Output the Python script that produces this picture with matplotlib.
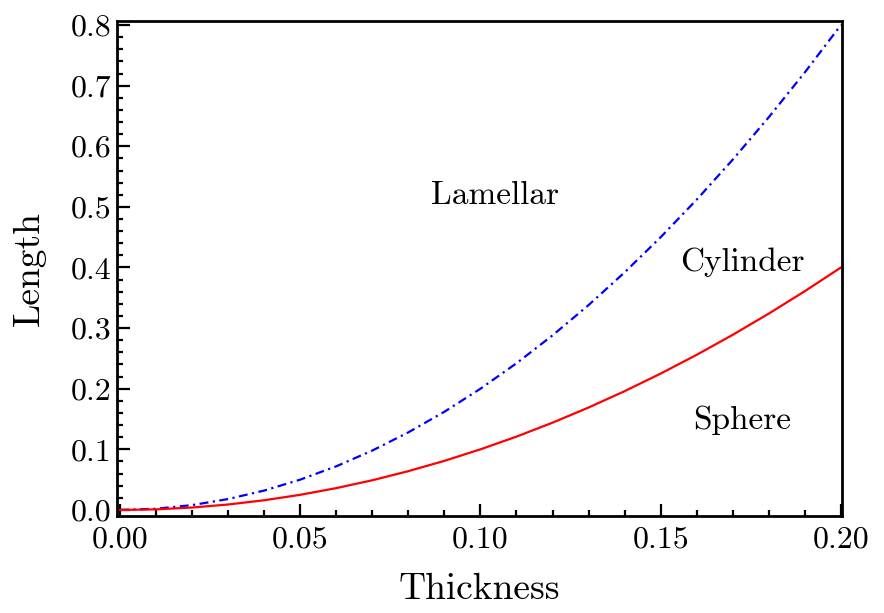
"""
Phase diagram: Length vs Thickness
"""

import matplotlib
matplotlib.use("Agg")
import matplotlib.pyplot as plt
from matplotlib.ticker import MultipleLocator, FormatStrFormatter

plt.rcParams['font.family'] = ['cmr10', 'DejaVu Serif']
plt.rcParams['mathtext.fontset'] = 'cm'
plt.rcParams['axes.formatter.use_mathtext'] = True

# values
thickness = [0.00, 0.01, 0.02, 0.03, 0.04, 0.05, 0.06, 0.07, 0.08, 0.09, 0.10,
             0.11, 0.12, 0.13, 0.14, 0.15, 0.16, 0.17, 0.18, 0.19, 0.20]
lamellar_cyl = [0.000, 0.002, 0.008, 0.018, 0.032, 0.050, 0.072, 0.098, 0.128, 0.162, 0.200,
                0.242, 0.288, 0.338, 0.392, 0.450, 0.512, 0.578, 0.648, 0.722, 0.800]
cyl_sphere = [0.000, 0.001, 0.004, 0.009, 0.016, 0.025, 0.036, 0.049, 0.064, 0.081, 0.100,
              0.121, 0.144, 0.169, 0.196, 0.225, 0.256, 0.289, 0.324, 0.361, 0.400]

phase_names = ["Lamellar", "Cylinder", "Sphere"]
phase_pos = [(0.104, 0.518), (0.1728, 0.409), (0.1727, 0.1485)]

fig = plt.figure(figsize=(8.84, 6.13), dpi=100)
ax = fig.add_axes([0.1324, 0.158, 0.8201, 0.8077])

ax.plot(thickness, lamellar_cyl, color="blue", lw=1.6, ls=(0, (4, 2, 1, 2)))
ax.plot(thickness, cyl_sphere, color="red", lw=1.6, ls="-")

for name, (px, py) in zip(phase_names, phase_pos):
    ax.text(px, py, name, fontsize=24, ha="center", va="center")

ax.set_xlim(-0.0008, 0.2003)
ax.set_ylim(-0.0102, 0.8066)
ax.xaxis.set_major_locator(MultipleLocator(0.05))
ax.xaxis.set_minor_locator(MultipleLocator(0.01))
ax.yaxis.set_major_locator(MultipleLocator(0.1))
ax.yaxis.set_minor_locator(MultipleLocator(0.02))
ax.xaxis.set_major_formatter(FormatStrFormatter("%.2f"))
ax.yaxis.set_major_formatter(FormatStrFormatter("%.1f"))
ax.tick_params(which="both", direction="in", top=False, right=False,
               width=1.6, labelsize=23)
ax.tick_params(which="major", length=9)
ax.tick_params(which="minor", length=4.5)
ax.tick_params(axis="x", which="major", pad=7)
ax.tick_params(axis="y", which="major", pad=4)
for sp in ax.spines.values():
    sp.set_linewidth(2)

ax.set_xlabel("Thickness", fontsize=27, labelpad=14)
ax.set_ylabel("Length", fontsize=27, labelpad=18)

plt.savefig("out.png", dpi=100)
